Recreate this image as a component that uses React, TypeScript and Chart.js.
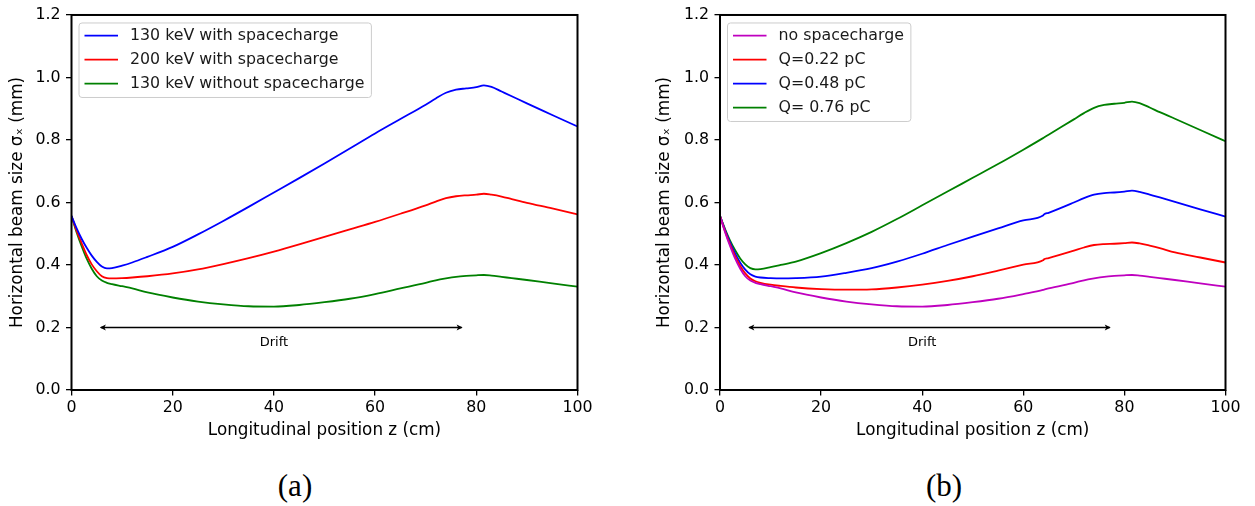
import React, { useEffect, useRef } from 'react';
import { Chart, registerables } from 'chart.js';

Chart.register(...registerables);

const FONT = "'DejaVu Sans', sans-serif";

// ---------- data ----------
const zLeft = [0, 1, 2, 3, 4, 5, 6, 7, 8, 10, 12, 15, 20, 25, 30, 35, 40, 45, 50, 55, 60, 65, 70, 72, 74, 76, 78, 80, 81.5, 83, 85, 87, 90, 95, 100];
const blue130sc = [0.557, 0.518, 0.484, 0.455, 0.430, 0.410, 0.395, 0.389, 0.390, 0.398, 0.408, 0.426, 0.458, 0.498, 0.541, 0.586, 0.632, 0.678, 0.725, 0.773, 0.821, 0.867, 0.913, 0.933, 0.951, 0.961, 0.965, 0.969, 0.975, 0.970, 0.955, 0.940, 0.917, 0.880, 0.843];
const red200sc = [0.557, 0.510, 0.470, 0.432, 0.402, 0.380, 0.364, 0.358, 0.357, 0.358, 0.360, 0.364, 0.373, 0.386, 0.403, 0.422, 0.443, 0.466, 0.490, 0.514, 0.538, 0.564, 0.591, 0.603, 0.614, 0.620, 0.623, 0.625, 0.628, 0.625, 0.619, 0.611, 0.599, 0.581, 0.562];
const green130nosc = [0.557, 0.505, 0.460, 0.420, 0.388, 0.364, 0.350, 0.343, 0.339, 0.332, 0.325, 0.312, 0.296, 0.283, 0.274, 0.268, 0.267, 0.272, 0.281, 0.292, 0.307, 0.325, 0.343, 0.351, 0.357, 0.362, 0.365, 0.367, 0.368, 0.366, 0.362, 0.358, 0.352, 0.341, 0.331];

const zRight = [0, 1, 2, 3, 4, 5, 6, 7, 8, 10, 12, 15, 20, 25, 30, 35, 40, 45, 50, 55, 60, 63.9, 64.1, 65, 70, 72, 74, 76, 78, 80, 81.5, 83, 85, 87, 90, 95, 100];
const noSpacecharge = [0.557, 0.505, 0.460, 0.420, 0.388, 0.364, 0.350, 0.343, 0.339, 0.332, 0.325, 0.312, 0.296, 0.283, 0.274, 0.268, 0.267, 0.272, 0.281, 0.292, 0.307, 0.320, 0.321, 0.325, 0.343, 0.351, 0.357, 0.362, 0.365, 0.367, 0.368, 0.366, 0.362, 0.358, 0.352, 0.341, 0.331];
const q022 = [0.557, 0.508, 0.465, 0.428, 0.397, 0.373, 0.357, 0.348, 0.343, 0.337, 0.333, 0.328, 0.323, 0.321, 0.322, 0.328, 0.337, 0.349, 0.364, 0.382, 0.401, 0.415, 0.418, 0.422, 0.446, 0.456, 0.464, 0.467, 0.468, 0.470, 0.472, 0.469, 0.462, 0.454, 0.440, 0.424, 0.408];
const q048 = [0.557, 0.512, 0.472, 0.437, 0.407, 0.385, 0.370, 0.363, 0.360, 0.358, 0.357, 0.358, 0.363, 0.375, 0.390, 0.411, 0.436, 0.464, 0.491, 0.517, 0.543, 0.558, 0.562, 0.567, 0.600, 0.614, 0.625, 0.630, 0.632, 0.635, 0.638, 0.634, 0.625, 0.616, 0.602, 0.578, 0.555];
const q076 = [0.557, 0.515, 0.478, 0.447, 0.421, 0.402, 0.390, 0.386, 0.387, 0.393, 0.400, 0.411, 0.438, 0.470, 0.506, 0.547, 0.591, 0.635, 0.679, 0.723, 0.769, 0.806, 0.808, 0.817, 0.866, 0.886, 0.903, 0.912, 0.916, 0.919, 0.923, 0.918, 0.904, 0.889, 0.868, 0.832, 0.796];

const xTickValues = [0, 20, 40, 60, 80, 100];
const yTickValues = [0, 0.2, 0.4, 0.6, 0.8, 1.0, 1.2];

const driftStartZ = 5.6;
const driftEndZ = 77.3;
const driftArrowY = 0.2;
const driftLabelZ = 40;
const driftLabelY = 0.152;
const driftLabel = 'Drift';

const xTitle = 'Longitudinal position z (cm)';
const yTitle = 'Horizontal beam size σₓ (mm)';

type Series = { label: string; color: string; values: number[] };

const leftSeries: Series[] = [
  { label: '130 keV with spacecharge', color: '#0000ff', values: blue130sc },
  { label: '200 keV with spacecharge', color: '#ff0000', values: red200sc },
  { label: '130 keV without spacecharge', color: '#008000', values: green130nosc },
];

const rightSeries: Series[] = [
  { label: 'no spacecharge', color: '#bf00bf', values: noSpacecharge },
  { label: 'Q=0.22 pC', color: '#ff0000', values: q022 },
  { label: 'Q=0.48 pC', color: '#0000ff', values: q048 },
  { label: 'Q= 0.76 pC', color: '#008000', values: q076 },
];

const TICK_SIZE = 15.8;
const TITLE_SIZE = 16.8;
const LEGEND_SIZE = 15.8;

const overlayPlugin = {
  id: 'overlay',
  afterDatasetsDraw(chart: any) {
    const { ctx, chartArea: a, scales } = chart;
    const xs = scales.x;
    const ys = scales.y;
    ctx.save();

    // drift arrow
    const x1 = xs.getPixelForValue(driftStartZ);
    const x2 = xs.getPixelForValue(driftEndZ);
    const y = Math.round(ys.getPixelForValue(driftArrowY)) + 0.5;
    ctx.strokeStyle = '#000';
    ctx.fillStyle = '#000';
    ctx.lineWidth = 1.3;
    ctx.beginPath();
    ctx.moveTo(x1 + 1, y);
    ctx.lineTo(x2 - 1, y);
    ctx.stroke();
    const hl = 6, hw = 3;
    ctx.beginPath();
    ctx.moveTo(x1, y);
    ctx.lineTo(x1 + hl, y - hw);
    ctx.lineTo(x1 + hl - 1.5, y);
    ctx.lineTo(x1 + hl, y + hw);
    ctx.closePath();
    ctx.fill();
    ctx.beginPath();
    ctx.moveTo(x2, y);
    ctx.lineTo(x2 - hl, y - hw);
    ctx.lineTo(x2 - hl + 1.5, y);
    ctx.lineTo(x2 - hl, y + hw);
    ctx.closePath();
    ctx.fill();

    ctx.font = `13px ${FONT}`;
    ctx.textAlign = 'center';
    ctx.textBaseline = 'middle';
    ctx.fillText(driftLabel, xs.getPixelForValue(driftLabelZ), ys.getPixelForValue(driftLabelY));

    // frame
    ctx.lineWidth = 2;
    ctx.strokeStyle = '#000';
    ctx.strokeRect(a.left, a.top, a.right - a.left, a.bottom - a.top);

    // legend
    const ds = chart.data.datasets;
    ctx.font = `${LEGEND_SIZE}px ${FONT}`;
    let maxW = 0;
    ds.forEach((d: any) => { maxW = Math.max(maxW, ctx.measureText(d.label).width); });
    const lx = a.left + 7.5;
    const ly = a.top + 8;
    const w = 51 + maxW + 7;
    const h = 24 * ds.length + 2.5;
    ctx.beginPath();
    if ((ctx as any).roundRect) (ctx as any).roundRect(lx, ly, w, h, 3);
    else ctx.rect(lx, ly, w, h);
    ctx.fillStyle = 'rgba(255,255,255,0.8)';
    ctx.fill();
    ctx.lineWidth = 1;
    ctx.strokeStyle = '#cccccc';
    ctx.stroke();
    ds.forEach((d: any, i: number) => {
      const cy = ly + 12.7 + 24 * i;
      ctx.strokeStyle = d.borderColor;
      ctx.lineWidth = 1.8;
      ctx.beginPath();
      ctx.moveTo(lx + 5.5, cy);
      ctx.lineTo(lx + 39, cy);
      ctx.stroke();
      ctx.fillStyle = '#1a1a1a';
      ctx.textAlign = 'left';
      ctx.textBaseline = 'middle';
      ctx.fillText(d.label, lx + 51, cy + 0.5);
    });

    ctx.restore();
  },
};

function buildConfig(z: number[], series: Series[], yAxisWidth: number, rightPad: number, yTitlePad: number): any {
  return {
    type: 'line',
    data: {
      datasets: series.map((s) => ({
        label: s.label,
        data: z.map((zz, i) => ({ x: zz, y: s.values[i] })),
        borderColor: s.color,
        backgroundColor: s.color,
        borderWidth: 1.8,
        pointRadius: 0,
        cubicInterpolationMode: 'monotone',
        fill: false,
      })),
    },
    options: {
      responsive: false,
      animation: false,
      devicePixelRatio: 1,
      layout: { padding: { left: 0, right: rightPad, top: 12.5, bottom: 0 } },
      plugins: { legend: { display: false }, tooltip: { enabled: false } },
      scales: {
        x: {
          type: 'linear',
          min: 0,
          max: 100,
          afterBuildTicks: (s: any) => { s.ticks = xTickValues.map((v) => ({ value: v })); },
          afterFit: (s: any) => { s.height = 60; },
          ticks: {
            font: { family: FONT, size: TICK_SIZE },
            color: '#000',
            padding: 3,
            maxRotation: 0,
            autoSkip: false,
            callback: (v: any) => String(v),
          },
          grid: { drawOnChartArea: false, drawTicks: true, tickLength: 5.5, color: '#000', lineWidth: 1.3 },
          border: { display: false },
          title: {
            display: true,
            text: xTitle,
            font: { family: FONT, size: TITLE_SIZE },
            color: '#000',
            padding: { top: 0, bottom: 9.5 },
          },
        },
        y: {
          type: 'linear',
          min: 0,
          max: 1.2,
          afterBuildTicks: (s: any) => { s.ticks = yTickValues.map((v) => ({ value: v })); },
          afterFit: (s: any) => { s.width = yAxisWidth; },
          ticks: {
            font: { family: FONT, size: TICK_SIZE },
            color: '#000',
            padding: 5.5,
            autoSkip: false,
            callback: (v: any) => Number(v).toFixed(1),
          },
          grid: { drawOnChartArea: false, drawTicks: true, tickLength: 5.5, color: '#000', lineWidth: 1.3 },
          border: { display: false },
          title: {
            display: true,
            text: yTitle,
            font: { family: FONT, size: TITLE_SIZE },
            color: '#000',
            padding: { top: yTitlePad, bottom: 0 },
          },
        },
      },
    },
    plugins: [overlayPlugin],
  };
}

export default function App() {
  const leftRef = useRef<HTMLCanvasElement>(null);
  const rightRef = useRef<HTMLCanvasElement>(null);

  useEffect(() => {
    const c1 = new Chart(leftRef.current as HTMLCanvasElement, buildConfig(zLeft, leftSeries, 71.5, 62.5, 7.9));
    const c2 = new Chart(rightRef.current as HTMLCanvasElement, buildConfig(zRight, rightSeries, 80, 29.5, 14.9));
    return () => {
      c1.destroy();
      c2.destroy();
    };
  }, []);

  const captionStyle: React.CSSProperties = {
    position: 'absolute',
    top: 470,
    width: 120,
    textAlign: 'center',
    fontFamily: "'Liberation Serif', serif",
    fontSize: 31,
    lineHeight: '31px',
    color: '#000',
  };

  return (
    <div style={{ position: 'absolute', left: 0, top: 0, width: 1255, height: 506, background: '#fff', overflow: 'hidden' }}>
      <canvas ref={leftRef} width={640} height={450} style={{ position: 'absolute', left: 0, top: 0, width: 640, height: 450 }} />
      <canvas ref={rightRef} width={615} height={450} style={{ position: 'absolute', left: 640, top: 0, width: 615, height: 450 }} />
      <div style={{ ...captionStyle, left: 295 - 60 }}>(a)</div>
      <div style={{ ...captionStyle, left: 944 - 60 }}>(b)</div>
    </div>
  );
}
